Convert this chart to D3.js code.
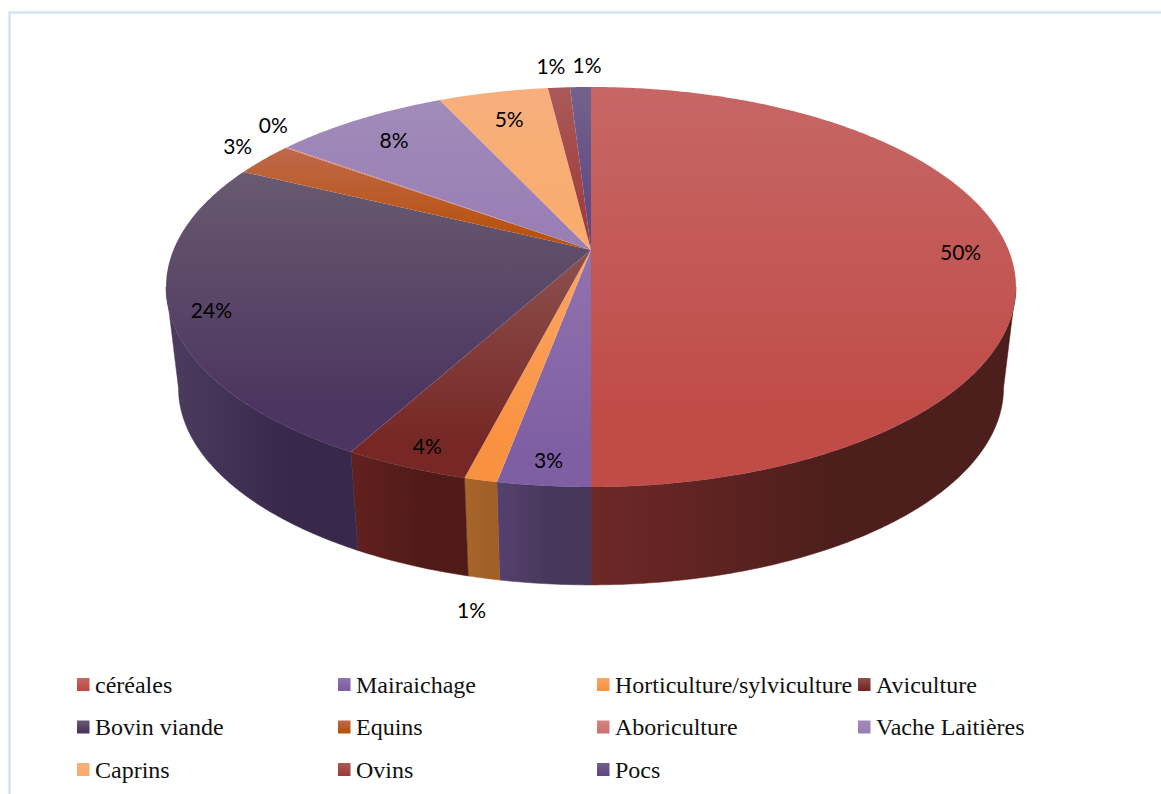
<!DOCTYPE html>
<html>
<head>
<meta charset="utf-8">
<script src="https://cdn.jsdelivr.net/npm/d3@7"></script>
<style>
  html, body { margin: 0; background: #fff; }
  svg { display: block; }
</style>
</head>
<body>
<div id="chart"></div>
<script>
const categories = ["céréales", "Mairaichage", "Horticulture/sylviculture", "Aviculture", "Bovin viande",
  "Equins", "Aboriculture", "Vache Laitières", "Caprins", "Ovins", "Pocs"];
const values = [50, 2.95, 1.05, 4, 24.2, 2.75, 0.1, 8, 5, 1, 0.95];
const percentLabels = ["50%", "3%", "1%", "4%", "24%", "3%", "0%", "8%", "5%", "1%", "1%"];

// colours, one per slice
const topColors = ["#c04b47", "#7f5fa3", "#f99240", "#772826", "#4c3560",
  "#b85210", "#cd7371", "#9a7fb5", "#f9ac6e", "#9f3d3b", "#614785"];
const fadeColors = ["#c66765", "#9173af", "#fca666", "#8d514e", "#685a70",
  "#be694b", "#d68583", "#a08cb9", "#f8af7d", "#aa5a58", "#73628c"];
const sideLeft = ["#6e2826", "#54406e", "#a8652a", "#60201e", "#4a3a5e",
  "#7a3a08", "#8a4c4b", "#6a5a7c", "#a87448", "#6a2a28", "#40305a"];
const sideRight = ["#4c1e1c", "#46365a", "#a26028", "#501a18", "#38294c",
  "#6a3206", "#7a4240", "#5a4c6c", "#986840", "#5a2422", "#362a4c"];

// label nudges from the rim midpoint of each slice
const labelDx = [-48, 5, -9, 22, 42, -26, -13, 35, 16, -8, 6.5];
const labelDy = [2, -25, 130, -20, -2, -13, -22, 21, 27, -21, -22];

const legendCols = [77, 338, 597, 858];
const legendRows = [678, 720.5, 763];

const width = 1161, height = 794;

// the pie is tilted in perspective, so the centre is not the middle of the ellipse
const perspective = -0.185;
const cx = 591;
const topFace = { R: 417.6, a: 146.9, y0: 250 };
const bottomFace = { R: 405.4, a: 125.2, y0: 351.5 };

// angles where the rim turns away from the viewer
const rimStart = Math.acos(perspective);
const rimEnd = 2 * Math.PI - rimStart;

function project(face, theta, k = 1) {
  const u = k * Math.sin(theta), v = -k * Math.cos(theta);
  const w = 1 + perspective * v;
  return [cx + face.R * u / w, (face.a * v + face.y0) / w];
}

function arcPoints(face, a0, a1) {
  const n = Math.max(2, Math.ceil((a1 - a0) / 0.01));
  return d3.range(n + 1).map(i => project(face, a0 + (a1 - a0) * i / n));
}

const line = d3.line();

const svg = d3.select("#chart").append("svg")
  .attr("width", width)
  .attr("height", height);
const defs = svg.append("defs");

const slices = d3.pie().sort(null).value(d => d)(values);

// frame, open on the right and at the bottom
svg.append("path")
  .attr("d", line([[9.5, height], [9.5, 12.5], [width, 12.5]]))
  .attr("fill", "none")
  .attr("stroke", "#d6e4f5")
  .attr("stroke-width", 2.5);

// each slice fades over its own height, swatches use the same gradient
topColors.forEach((c, i) => {
  const g = defs.append("linearGradient")
    .attr("id", `top${i}`)
    .attr("x1", 0).attr("x2", 0).attr("y1", 0).attr("y2", 1);
  g.append("stop").attr("offset", 0).attr("stop-color", fadeColors[i]);
  g.append("stop").attr("offset", 0.83).attr("stop-color", c);
});

const sideGroup = svg.append("g");
const topGroup = svg.append("g");

slices.forEach((s, i) => {
  // only the front of the rim shows
  const a0 = Math.max(s.startAngle, rimStart);
  const a1 = Math.min(s.endAngle, rimEnd);
  if (a1 > a0) {
    const upper = arcPoints(topFace, a0, a1);
    const lower = arcPoints(bottomFace, a0, a1);
    const xs = lower.map(p => p[0]);
    const g = defs.append("linearGradient")
      .attr("id", `side${i}`)
      .attr("gradientUnits", "userSpaceOnUse")
      .attr("x1", d3.min(xs)).attr("x2", d3.max(xs)).attr("y1", 0).attr("y2", 0);
    g.append("stop").attr("offset", 0).attr("stop-color", sideLeft[i]);
    g.append("stop").attr("offset", 0.6).attr("stop-color", sideRight[i]);
    g.append("stop").attr("offset", 1).attr("stop-color", sideRight[i]);

    sideGroup.append("path")
      .attr("d", line([...upper, ...lower.reverse()]) + "Z")
      .attr("fill", `url(#side${i})`)
      .attr("stroke", `url(#side${i})`)
      .attr("stroke-width", 0.5);
  }

  topGroup.append("path")
    .attr("d", line([project(topFace, 0, 0), ...arcPoints(topFace, s.startAngle, s.endAngle)]) + "Z")
    .attr("fill", `url(#top${i})`);
});

// percent labels
svg.append("g").selectAll("text")
  .data(slices)
  .join("text")
  .attr("x", (d, i) => project(topFace, (d.startAngle + d.endAngle) / 2)[0] + labelDx[i])
  .attr("y", (d, i) => project(topFace, (d.startAngle + d.endAngle) / 2)[1] + labelDy[i])
  .attr("dy", "0.36em")
  .attr("text-anchor", "middle")
  .attr("font-family", "Lato, 'Open Sans', sans-serif")
  .attr("font-size", 21)
  .attr("fill", "#000")
  .text((d, i) => percentLabels[i]);

// legend, four to a row
const legend = svg.append("g").selectAll("g")
  .data(categories)
  .join("g")
  .attr("transform", (d, i) => `translate(${legendCols[i % 4]},${legendRows[Math.floor(i / 4)]})`);

legend.append("rect")
  .attr("width", 12.5)
  .attr("height", 13)
  .attr("fill", (d, i) => `url(#top${i})`);

legend.append("text")
  .attr("x", 18)
  .attr("y", 14.5)
  .attr("font-family", "'Liberation Serif', 'Times New Roman', serif")
  .attr("font-size", 24)
  .attr("fill", "#111")
  .text(d => d);
</script>
</body>
</html>
